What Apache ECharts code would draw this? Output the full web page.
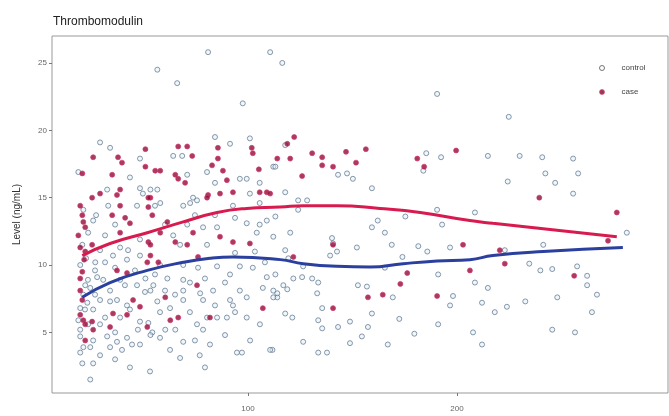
<!DOCTYPE html>
<html><head><meta charset="utf-8">
<script src="https://cdn.jsdelivr.net/npm/echarts@6/dist/echarts.min.js"></script>
<style>html,body{margin:0;padding:0;background:#fff}#c{width:669px;height:416px}</style>
</head><body><div id="c"></div>
<script>
const titleText = "Thrombomodulin";
const yName = "Level (ng/mL)";
const xTicks = [100, 200];
const yTicks = [5, 10, 15, 20, 25];
const legendNames = ["control", "case"];

const controlPoints = [
[80.9,25.8],[110.6,25.8],[56.6,24.5],[66.1,23.5],[97.5,22],[84.2,19.5],[91.4,19],[100.9,19.4],[29.2,19.1],[34,18.7],
[48.3,17.9],[64.2,18.1],[68.5,18.1],[18.8,16.9],[43.5,16.5],[70.9,16.7],[80.4,16.9],[84.2,16.1],[96.1,16.4],[99.4,16.4],
[105.6,16.1],[112.1,17.3],[32.6,15.6],[48.3,15.7],[53.3,15.6],[56.6,15.6],[73.7,15],[100.9,15.3],
[116.4,25],[190.5,22.7],[117.8,18.9],[113.1,17.3],[143.1,16.7],[147.4,16.8],[150.2,16.4],[159.3,15.7],[185.3,18.3],[192.4,18],
[183.9,17],[117.8,15.4],[124,14.8],[128.3,14.8],
[224.8,21],[214.8,18.1],[230,18.1],[240.8,18],[255.6,17.9],[224.3,16.2],[242.3,16.8],[247,16.1],[258,16.8],[255.6,15.3],
[208.6,13.9],[281.3,12.4],[241.3,11.5],[222.9,11.1],[234.6,10.1],[239.9,9.6],[245.6,9.7],[257.5,9.9],[262.3,9.2],[262.3,8.5],
[267,7.8],[208.6,8.7],[214.8,8.3],[248,7.6],[212,7.2],[223.9,6.9],[232.7,7.3],[264.6,6.5],[218.1,6.5],[207.7,5],
[245.6,5.2],[256.5,5],[212,4.1],
[124,14.1],[113.1,13.6],[175.3,13.6],[190.5,14.1],[192.9,13],[120.2,12.4],[159.3,12.8],[162.1,13.3],[165.5,12.4],[140.2,12],
[117.8,11.1],[140.7,11.6],[142.6,11],[152.1,11.3],[168.8,11.5],[181.5,11.4],[185.8,11],[196.7,11.3],[173.9,10.6],[119.3,10.5],
[139.3,10.7],[126.4,9.9],[165.5,9.8],[113.1,9.3],[121.7,9],[125.9,9.1],[130.7,9],[191,9.3],[116.9,8.5],[133.6,8.7],
[152.6,8.5],[156.9,8.4],[112.1,8.1],[118.8,8.2],[114,7.6],[133.1,7.9],[169.3,7.6],[198.1,7.7],[196.7,7],[135.5,6.8],
[117.8,6.4],[121.2,6.1],[159.3,6.4],[172.4,6],[133.6,5.9],[135.5,5.3],[143.1,5.4],[148.8,5.8],[157.4,5.4],[191,5.6],
[154.5,4.7],[148.8,4.2],[126.4,4.3],[166.9,4.1],[179.6,4.9],[133.6,3.5],[137.8,3.5],[111.7,3.7],
[21.2,14.1],[25.9,13.3],[46.9,14.4],[49.7,15.3],[58,14.6],[69,14.4],[72.3,14.6],[75.6,14.8],[92.8,14.4],[105.6,14.6],
[70.9,13],[78.5,12.8],[85.2,12.8],[99.4,13.1],[105.6,13],[109,13.3],[64.2,12.2],[67.5,11.5],[80.4,11.5],[104.2,12.4],
[112.1,12.1],[42.6,11.1],[48.3,10.7],[35.4,10.7],[42.1,10.4],[69,10],[76.1,9.8],[85.2,9.9],[96.1,9.9],[91.4,9.3],
[102.3,9.8],[109,9.1],[27.8,9.1],[30.7,8.9],[34,8.1],[38.8,8.9],[46.9,8.5],[50.9,9],[54.7,8.5],[61.4,9],
[69,8.9],[69,8.1],[69,7.4],[77.1,7.9],[83.3,8.1],[96.1,8.1],[99.4,7.6],[107.1,8.3],[112.1,7.6],[29.2,7.4],
[34,7.3],[37.3,7.4],[42.1,7],[53.3,8.1],[56.6,7.3],[78.5,7.4],[91.4,7.4],[92.8,7],[114,7.9],[23.1,7.2],
[25.9,6.7],[19.7,6.8],[48.3,5.8],[52.3,5.7],[47.3,5.2],[54.2,5],[60.4,5.2],[65.2,5.2],[75.6,5.6],[78.5,5.2],
[80.4,6.1],[85.2,6.1],[89.9,6.1],[99.4,6.1],[32.6,4.7],[37.3,4.3],[42.1,4.6],[44.5,4.1],[53.3,4.8],[19.7,4.7],
[21.2,3.9],[24.5,3.9],[25.9,4.4],[34,3.9],[39.7,3.7],[69,4.3],[19.7,3.5],[94.7,3.5],[97.1,3.5],[110.6,3.7],
[67.5,3.1],[20.7,2.7],[25.9,2.7],[43.5,2.4],[24.5,1.5],[19.7,5.2],[24.5,8.3],[21.2,7.8],
[19.7,10],[22.1,8.5],[18.8,5.9],[20.7,11.5],[23.5,12.4],[26.9,10.2],[29.2,11.1],[31.6,12.2],[27.3,13.7],[33.1,14.4],
[36.4,13],[23.5,5.6],
[22.5,10.5],[26.8,9.6],[31.6,10.2],[36.4,9.8],[41.1,8.5],[45.9,9.6],[50.7,8],[55.5,9.3],[60.3,8.1],[65.1,7.8],
[72.2,8.7],[79.4,9],[89,8.7],[38.8,6.1],[43.5,6.7],[57.9,6.5],[62.7,6.8],[72.2,6.5],[84.2,7],[29.2,5.6],
[36.4,5],[57.9,4.6],[74.6,4.4],[81.8,4.1],[89,4.8],[22,6.7],[23.4,8.9],[26.8,7.8],[31.6,6.1],[48.3,4.1],
[62.7,3.7],[76.9,3.3],[101,4.4],[105.7,5.6],[93.8,6.5],[29.2,3.3],[36.4,3],[53.1,2.1],[79.4,2.4],[108.1,10.2],
[103.3,11],[93.8,10.9],[57.9,10],[48.3,11.9],[38.8,11.3],[60.3,13],[84.2,13.7],[93.8,13.5],[74.6,13.7],[55.5,14.4]
];

const casePoints = [
[25.9,18],[37.8,18],[39.7,17.6],[50.9,18.6],[50.9,17.3],[55.6,17],[58,17],[66.6,18.8],[70.9,18.8],[73.3,18.1],
[65.2,16.7],[66.6,16.4],[69.9,16.1],[20.7,16.8],[35,16.7],[85.6,18.7],[85.6,17.9],[82.8,17.4],[88,17],[89.9,16.3],
[101.8,18.7],[102.3,18.3],[105.2,17.1],[109,15.4],[105.6,15.4],[92.8,15.4],[86.6,15.3],[80.9,15.2],[25.4,15],[29.2,15.3],
[38.8,15.6],[53.3,15],
[118.8,19],[122.1,19.5],[114,17.9],[120.2,17.9],[130.7,18.3],[135.5,18],[135.5,17.4],[125.9,16.6],[140.7,17.3],[146.9,18.4],
[151.7,17.6],[156.4,18.6],[181,17.9],[184.3,17.3],[199.6,18.5],[110.6,15.3],
[239.4,15],[276.5,13.9],[202.9,11.5],[220.5,11.1],[222.9,10.1],[206.2,9.6],[256.1,9.2],[272.3,11.8],
[121.7,10.6],[140.7,11.5],[176.2,9.4],[172.9,8.6],[157.4,7.6],[164.5,7.8],[190.5,7.7],[140.7,6.8],
[37.3,15.2],[38.8,14.4],[52.3,15],[52.3,14.3],[21.2,13.2],[22.1,12.8],[35,13.7],[41.2,13.5],[43.5,13.1],[38.8,12.4],
[54.2,13.7],[61.4,13.2],[80.4,15],[73.7,12.4],[86.6,12.1],[92.8,11.7],[100.9,11.6],[25.4,11.5],[22.1,11],[19.7,11.3],
[52.3,11.7],[53.3,11.5],[58,12.4],[65.2,11.7],[70.9,11.5],[53.3,10.7],[51.8,10.2],[57.1,10.2],[76.1,10.6],[37.3,9.6],
[42.1,9.4],[20.7,9.5],[19.7,9],[75.6,8.5],[60.4,7.6],[45,7.4],[19.7,6.3],[21.2,5.9],[22.1,5.6],[25.4,5.8],
[25.9,5.2],[35.4,6.4],[42.1,6.3],[48.3,6.9],[66.6,6.1],[81.8,6.1],[107.1,6.8],[62.8,5.9],[34,5.4],[51.8,5.4],
[19.7,14.4],[20.7,13.7],[18.8,12.2],[21.6,10.4],[19.7,8.1],[20.7,7.4],[22.1,4.4]
];

const caseFitX = [20.7,34,51.8,69,85.2,99.4,115.5,126.4,142.6,163.1,182.4,206.2,217.2,241.3,276.5];
const caseFitY = [10.7,11.6,12.4,13.2,13.9,14.2,14.3,14.4,14.4,14.2,13.9,13.3,13.1,12.7,12.1];
const controlFitX = [20.7,34,51.8,69,81.8,92.8,115.5,126.4,142.6,158.3,174.3,190.5,206.2,217.2,241.3,279.4];
const controlFitY = [7.6,8.7,9.6,10.2,10.5,10.6,10.4,10.1,9.9,9.85,10.1,10.3,10.4,10.7,11.0,11.3];

const zip = (a, b) => a.map((v, i) => [v, b[i]]);

const chart = echarts.init(document.getElementById('c'), null, {renderer: 'canvas'});
chart.setOption({
  animation: false,
  backgroundColor: '#fff',
  title: {text: titleText, left: 48, top: 11,
    textStyle: {fontSize: 12, fontWeight: 'normal', color: '#222', fontFamily: 'Liberation Sans'}},
  legend: {
    orient: 'vertical', left: 594, top: 59, itemGap: 16, itemWidth: 29, itemHeight: 5,
    textStyle: {fontSize: 8, color: '#444', fontFamily: 'Liberation Sans'},
    data: [
      {name: legendNames[0], icon: 'circle', itemStyle: {color: '#fff', borderColor: '#555', borderWidth: 1}},
      {name: legendNames[1], icon: 'circle', itemStyle: {color: '#7a0c2e', borderColor: '#e04070', borderWidth: 0.8}}
    ]
  },
  grid: {left: 52, right: 1, top: 36, bottom: 23, show: true, borderColor: '#999', borderWidth: 1, backgroundColor: 'transparent'},
  xAxis: {
    type: 'value', min: 6.2, max: 301,
    axisLine: {show: false},
    axisTick: {show: true, length: 3, lineStyle: {color: '#777'}, customValues: xTicks},
    axisLabel: {fontSize: 8, color: '#666', margin: 12, customValues: xTicks, fontFamily: 'Liberation Sans'},
    splitLine: {show: false}
  },
  yAxis: {
    type: 'value', min: 0.5, max: 27,
    name: yName, nameLocation: 'middle', nameGap: 30,
    nameTextStyle: {fontSize: 10, color: '#333', fontFamily: 'Liberation Sans'},
    axisLine: {show: false},
    axisTick: {show: true, length: 3, lineStyle: {color: '#777'}, customValues: yTicks},
    axisLabel: {fontSize: 8, color: '#666', margin: 5, customValues: yTicks, fontFamily: 'Liberation Sans'},
    splitLine: {show: false}
  },
  series: [
    {name: legendNames[0], type: 'scatter', data: controlPoints, symbolSize: 5, z: 2,
      itemStyle: {color: 'rgba(215,240,248,0.6)', borderColor: '#5f7088', borderWidth: 0.9}},
    {name: legendNames[1], type: 'scatter', data: casePoints, symbolSize: 5, z: 3,
      itemStyle: {color: '#900c38', borderColor: '#d8306a', borderWidth: 0.8}},
    {name: 'caseFit', type: 'line', data: zip(caseFitX, caseFitY), smooth: 0.5, showSymbol: false, z: 4,
      lineStyle: {color: '#d81b4e', width: 3}},
    {name: 'controlFit', type: 'line', data: zip(controlFitX, controlFitY), smooth: 0.5, showSymbol: false, z: 4,
      lineStyle: {color: '#2a3f9e', width: 3}}
  ]
});
</script>
</body></html>
